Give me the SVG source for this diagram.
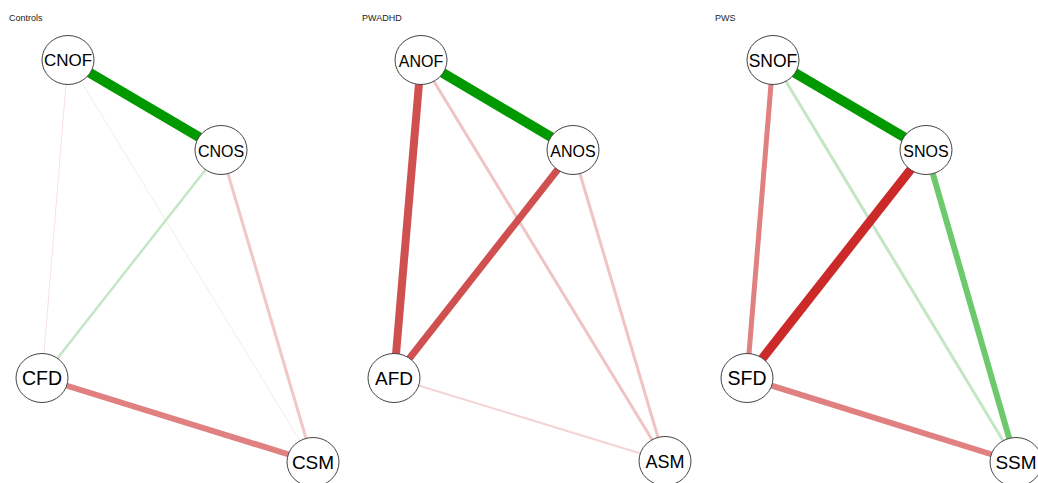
<svg xmlns="http://www.w3.org/2000/svg" width="1038" height="483" viewBox="0 0 1038 483">
<style>
.bg{fill:#ffffff}
.title{font-family:"Liberation Sans",Arial,sans-serif;font-size:9px;fill:#222222}
.node ellipse{fill:#ffffff;stroke:#444444;stroke-width:1}
.node text{font-family:"Liberation Sans",Arial,sans-serif;fill:#000000;text-anchor:middle;dominant-baseline:central}
.e{stroke-linecap:butt;fill:none}
</style>
<rect class="bg" x="0" y="0" width="1038" height="483"/>
<text class="title" x="9" y="21">Controls</text>
<text class="title" x="362" y="21">PWADHD</text>
<text class="title" x="715" y="21">PWS</text>
<g id="connectors">
<!-- Controls -->
<line class="e" x1="68" y1="60" x2="42" y2="378" stroke="#f7e0e0" stroke-width="1"/>
<line class="e" x1="68" y1="60" x2="313" y2="462" stroke="#e6f4e6" stroke-width="1"/>
<line class="e" x1="221" y1="150" x2="42" y2="378" stroke="#c5e6c5" stroke-width="2.5"/>
<line class="e" x1="221" y1="150" x2="313" y2="462" stroke="#f0c8c8" stroke-width="3"/>
<line class="e" x1="42" y1="378" x2="313" y2="462" stroke="#e08080" stroke-width="6"/>
<line class="e" x1="68" y1="60" x2="221" y2="150" stroke="#009900" stroke-width="10"/>
<!-- PWADHD -->
<line class="e" x1="421" y1="60" x2="665" y2="461" stroke="#f0c4c4" stroke-width="3"/>
<line class="e" x1="573" y1="150" x2="665" y2="461" stroke="#f0c4c4" stroke-width="3"/>
<line class="e" x1="394" y1="378" x2="665" y2="461" stroke="#f4d4d4" stroke-width="2"/>
<line class="e" x1="421" y1="60" x2="394" y2="378" stroke="#d04f4f" stroke-width="8"/>
<line class="e" x1="573" y1="150" x2="394" y2="378" stroke="#d04f4f" stroke-width="7"/>
<line class="e" x1="421" y1="60" x2="573" y2="150" stroke="#009900" stroke-width="10"/>
<!-- PWS -->
<line class="e" x1="773" y1="60" x2="1016" y2="462" stroke="#c5e6c5" stroke-width="3"/>
<line class="e" x1="773" y1="60" x2="747" y2="378" stroke="#e08080" stroke-width="5"/>
<line class="e" x1="747" y1="378" x2="1016" y2="462" stroke="#e08080" stroke-width="6"/>
<line class="e" x1="926" y1="150" x2="1016" y2="462" stroke="#6cc96c" stroke-width="6"/>
<line class="e" x1="926" y1="150" x2="747" y2="378" stroke="#cc2929" stroke-width="9"/>
<line class="e" x1="773" y1="60" x2="926" y2="150" stroke="#009900" stroke-width="10"/>
</g>
<g id="CNOF" class="node"><ellipse cx="68" cy="60" rx="26" ry="24.5"/><text x="68" y="60" font-size="17">CNOF</text></g>
<g id="CNOS" class="node"><ellipse cx="221" cy="150" rx="26" ry="24.5"/><text x="221" y="151" font-size="16">CNOS</text></g>
<g id="CFD" class="node"><ellipse cx="42" cy="378" rx="26" ry="24.5"/><text x="42" y="378" font-size="19.5">CFD</text></g>
<g id="CSM" class="node"><ellipse cx="313" cy="462" rx="26" ry="24.5"/><text x="313" y="462" font-size="19">CSM</text></g>
<g id="ANOF" class="node"><ellipse cx="421" cy="60" rx="26" ry="24.5"/><text x="421" y="61" font-size="16">ANOF</text></g>
<g id="ANOS" class="node"><ellipse cx="573" cy="150" rx="26" ry="24.5"/><text x="573" y="151" font-size="16">ANOS</text></g>
<g id="AFD" class="node"><ellipse cx="394" cy="378" rx="26" ry="24.5"/><text x="394" y="378" font-size="19">AFD</text></g>
<g id="ASM" class="node"><ellipse cx="665" cy="461" rx="26" ry="24.5"/><text x="665" y="462" font-size="18">ASM</text></g>
<g id="SNOF" class="node"><ellipse cx="773" cy="60" rx="26" ry="24.5"/><text x="773" y="61" font-size="17.5">SNOF</text></g>
<g id="SNOS" class="node"><ellipse cx="926" cy="150" rx="26" ry="24.5"/><text x="926" y="151" font-size="16">SNOS</text></g>
<g id="SFD" class="node"><ellipse cx="747" cy="378" rx="26" ry="24.5"/><text x="747" y="378" font-size="19.5">SFD</text></g>
<g id="SSM" class="node"><ellipse cx="1016" cy="462" rx="26" ry="24.5"/><text x="1016" y="462" font-size="19">SSM</text></g>
</svg>
